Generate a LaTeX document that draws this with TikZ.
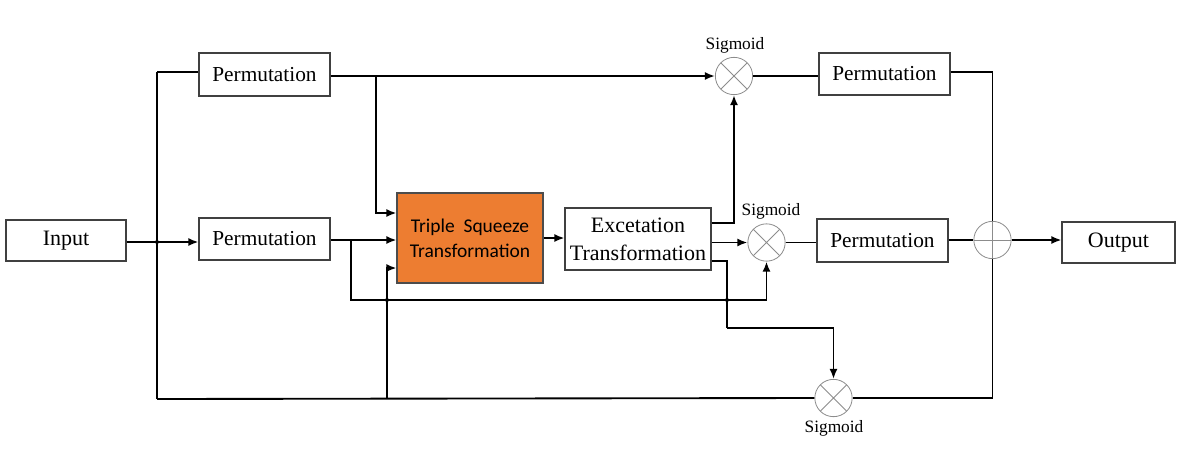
\documentclass[tikz,border=0pt]{standalone}
\usepackage{fontspec}
\setmainfont{Liberation Serif}
\newfontfamily\tsqfont{Carlito}
\usetikzlibrary{arrows.meta,calc}
\definecolor{tsqorange}{HTML}{ED7D31}
\begin{document}
\begin{tikzpicture}[x=0.75pt,y=-0.75pt,
  blk/.style={draw=black!75,line width=0.8pt,rectangle,inner sep=0pt,align=center,font=\fontsize{16}{18}\selectfont},
  wire/.style={line width=1.4pt,draw=black},
  arr/.style={wire,-{Latex[length=7.5pt,width=6pt]}},
  mult/.style={circle,draw=black!45,line width=0.6pt,minimum size=28pt,inner sep=0pt,
    path picture={\draw[black!45,line width=0.6pt]
      (path picture bounding box.north west)--(path picture bounding box.south east)
      (path picture bounding box.north east)--(path picture bounding box.south west);}},
  addc/.style={circle,draw=black!45,line width=0.6pt,minimum size=28pt,inner sep=0pt,
    path picture={\draw[black!45,line width=0.6pt]
      (path picture bounding box.north)--(path picture bounding box.south)
      (path picture bounding box.east)--(path picture bounding box.west);}},
  lbl/.style={font=\fontsize{13}{15}\selectfont,inner sep=0pt},
  jdot/.style={circle,fill=black,inner sep=0pt,minimum size=3pt}
]
\useasboundingbox (0,0) rectangle (1183,451);
% blocks
\node[blk,minimum width=90pt,minimum height=30.75pt,font=\fontsize{16.5}{19}\selectfont] (input) at (66,240.5) {Input};
\node[blk,minimum width=98.25pt,minimum height=32.25pt] (perm1) at (264.5,74.5) {Permutation};
\node[blk,minimum width=98.25pt,minimum height=31.5pt] (perm2) at (264.5,239) {Permutation};
\node[blk,fill=tsqorange,draw=black!70,minimum width=109.5pt,minimum height=67.5pt,font=\tsqfont\fontsize{14.6}{19}\selectfont] (tsq) at (470,238) {Triple~~Squeeze\\Transformation};
\node[blk,minimum width=109.5pt,minimum height=46.5pt,font=\fontsize{16.5}{21}\selectfont] (exc) at (638,239) {Excetation\\Transformation};
\node[blk,minimum width=98.25pt,minimum height=31.5pt] (perm3) at (884.5,74) {Permutation};
\node[blk,minimum width=98.25pt,minimum height=32.25pt] (perm4) at (882.5,240.5) {Permutation};
\node[blk,minimum width=84.75pt,minimum height=30.75pt,font=\fontsize{16.5}{19}\selectfont] (output) at (1118.5,242.5) {Output};
% operators
\node[mult] (s1) at (734,76) {};
\node[mult] (s2) at (766.5,242.5) {};
\node[mult] (s3) at (833.5,398) {};
\node[addc] (plus) at (992.5,240) {};
\node[lbl] (l1) at (735,45) {Sigmoid};
\node[lbl] (l2) at (771,211) {Sigmoid};
\node[lbl] (l3) at (834,428) {Sigmoid};
% junction coordinates
\coordinate (jin) at (157,242);
\coordinate (jtop) at (157,72);
\coordinate (jbot) at (157,399);
\coordinate (ja) at (376,76);
\coordinate (jb) at (351,240);
\coordinate (jc) at (387,399);
\coordinate (jd) at (387,300);
\coordinate (je) at (727,300);
% wires
\draw[arr] (input.east |- jin) -- (perm2.west |- jin);
\node[jdot] at (jin) {};
\draw[wire] (jtop) -- (jbot);
\draw[wire] (jtop) -- (perm1.west |- jtop);
\draw[wire] (jbot) -- (s3.west);
\draw[arr] (perm1.east |- ja) -- (s1.west);
\draw[arr] (ja) |- (tsq.west |- 0,213);
\draw[arr] (perm2.east |- jb) -- (tsq.west |- jb);
\draw[arr] (jb) |- (766.5,300) -- (s2.south);
\draw[arr] (jc) |- (tsq.west |- 0,268);
\node[jdot] at (jd) {};
\draw[arr] (tsq.east) -- (exc.west |- tsq.east);
\draw[arr] (exc.east |- 0,223) -| (s1.south);
\draw[arr] (exc.east |- s2.west) -- (s2.west);
\draw[wire] (exc.east |- 0,261) -| (727,328);
\draw[arr] (727,328) -| (s3.north);
\node[jdot] at (je) {};
\draw[wire] (s1.east) -- (perm3.west |- s1.east);
\draw[wire] (s2.east) -- (perm4.west |- s2.east);
\draw[wire] (perm3.east |- 0,72) -| (plus.north);
\draw[wire] (perm4.east |- plus.west) -- (plus.west);
\draw[wire] (s3.east) -| (plus.south);
\draw[arr] (plus.east) -- (output.west |- plus.east);
\end{tikzpicture}
\end{document}
